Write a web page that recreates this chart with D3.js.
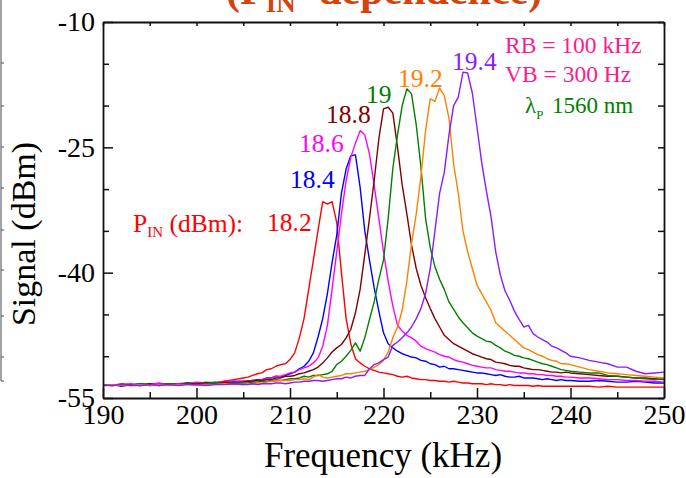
<!DOCTYPE html>
<html><head><meta charset="utf-8">
<script src="https://cdn.jsdelivr.net/npm/d3@7"></script>
<style>
html,body{margin:0;padding:0;background:#fff;}
svg{display:block;font-family:"Liberation Serif","Times New Roman",serif;}
</style></head>
<body><svg id="c" width="686" height="478"></svg>
<script>
// ---------- data ----------
// frequency grid (kHz): 190..204 step 1, 205..240 step 0.5, 241..250 step 1
const freq = [].concat(d3.range(190, 205, 1), d3.range(205, 240.01, 0.5), d3.range(241, 250.01, 1));

const pin182 = [
 -53.4,-53.5,-53.3,-53.4,-53.5,-53.3,-53.4,-53.4,-53.3,-53.2,-53.3,-53.1,-53.2,-53.0,-52.8,
 -52.6,-52.5,-52.3,-52.1,-52.0,-51.6,-51.5,-51.2,-51.0,-50.9,
 -50.4,-49.6,-47.8,-45.5,-42.0,-38.5,-34.9,-31.5,-31.8,-31.5,
 -34.0,-40.0,-45.5,-48.5,-50.3,-50.8,-51.2,-51.5,-51.7,-51.9,
 -52.0,-52.1,-52.2,-52.4,-52.5,-52.4,-52.6,-52.7,-52.8,-52.8,
 -52.9,-52.9,-53.0,-53.0,-53.1,-53.0,-53.1,-53.2,-53.2,-53.3,
 -53.3,-53.3,-53.4,-53.3,-53.4,-53.4,-53.5,-53.4,-53.5,-53.5,
 -53.5,-53.5,-53.6,-53.5,-53.6,-53.6,-53.6,-53.6,-53.6,-53.6,
 -53.6,
 -53.6,-53.6,-53.7,-53.6,-53.7,-53.7,-53.7,-53.7,-53.7,-53.7];
const pin184 = [
 -53.5,-53.4,-53.6,-53.4,-53.3,-53.5,-53.4,-53.3,-53.4,-53.2,-53.3,-53.2,-53.1,-53.2,-53.0,
 -53.0,-53.0,-52.9,-52.8,-52.8,-52.6,-52.6,-52.4,-52.5,-52.3,
 -52.1,-51.9,-51.5,-51.2,-50.6,-49.6,-47.7,-45.5,-42.5,-38.8,
 -35.5,-30.5,-27.6,-26.0,-25.9,-29.8,-35.0,-38.5,-41.8,-44.6,
 -47.2,-48.5,-49.0,-49.4,-49.7,-49.9,-50.1,-50.2,-50.5,-50.6,
 -50.9,-51.0,-51.3,-51.2,-51.5,-51.5,-51.6,-51.7,-51.8,-51.9,
 -52.0,-52.0,-52.1,-52.2,-52.3,-52.2,-52.4,-52.5,-52.5,-52.4,
 -52.6,-52.6,-52.6,-52.7,-52.8,-52.7,-52.8,-52.9,-52.8,-52.9,
 -52.9,
 -53.0,-53.0,-52.9,-53.0,-53.1,-53.1,-53.0,-53.1,-53.2,-53.2];
const pin186 = [
 -53.4,-53.5,-53.4,-53.3,-53.5,-53.4,-53.2,-53.4,-53.3,-53.3,-53.1,-53.2,-53.2,-53.0,-53.1,
 -53.0,-53.0,-52.9,-52.9,-52.8,-52.7,-52.6,-52.4,-52.4,-52.2,
 -52.0,-51.9,-51.6,-51.4,-51.2,-50.8,-50.2,-48.8,-46.3,-42.0,
 -37.5,-33.0,-29.0,-26.2,-24.5,-23.0,-23.5,-25.8,-29.5,-33.5,
 -37.5,-41.0,-44.0,-46.3,-47.0,-47.5,-47.8,-48.2,-48.8,-49.1,
 -49.3,-49.5,-49.8,-50.0,-50.1,-50.4,-50.6,-50.7,-50.9,-51.1,
 -51.2,-51.3,-51.4,-51.4,-51.6,-51.7,-51.8,-51.8,-51.9,-52.0,
 -52.0,-52.1,-52.1,-52.2,-52.2,-52.3,-52.3,-52.4,-52.4,-52.5,
 -52.5,
 -52.6,-52.6,-52.7,-52.8,-52.8,-52.9,-52.9,-53.0,-53.0,-53.1];
const pin188 = [
 -53.5,-53.4,-53.5,-53.4,-53.4,-53.3,-53.5,-53.3,-53.4,-53.3,-53.3,-53.2,-53.3,-53.1,-53.2,
 -53.1,-53.0,-53.0,-52.9,-52.9,-52.8,-52.8,-52.6,-52.6,-52.4,
 -52.4,-52.3,-52.1,-52.0,-51.8,-51.6,-51.3,-50.8,-50.2,-49.5,
 -49.0,-48.6,-47.8,-46.8,-44.8,-42.0,-37.8,-33.5,-29.0,-24.0,
 -20.4,-20.2,-20.9,-25.0,-29.5,-33.0,-36.7,-39.5,-41.5,-43.0,
 -44.3,-45.5,-46.5,-47.5,-48.0,-48.5,-48.8,-49.1,-49.4,-49.7,
 -49.9,-50.1,-50.3,-50.4,-50.7,-50.8,-50.9,-51.1,-51.2,-51.2,
 -51.4,-51.5,-51.6,-51.6,-51.7,-51.8,-51.9,-51.9,-52.0,-51.9,
 -52.0,
 -52.1,-52.2,-52.3,-52.4,-52.4,-52.5,-52.6,-52.6,-52.7,-52.8];
const pin190 = [
 -53.4,-53.5,-53.4,-53.5,-53.3,-53.4,-53.4,-53.3,-53.4,-53.3,-53.4,-53.3,-53.2,-53.3,-53.2,
 -53.2,-53.2,-53.1,-53.1,-53.0,-53.0,-52.9,-52.8,-52.9,-52.8,
 -52.7,-52.7,-52.6,-52.4,-52.5,-52.3,-52.3,-52.2,-52.1,-51.8,
 -51.0,-50.6,-50.0,-49.3,-48.4,-49.4,-47.8,-45.6,-43.5,-40.8,
 -38.5,-33.5,-27.5,-23.5,-20.0,-18.0,-18.6,-22.3,-27.3,-33.5,
 -37.0,-39.3,-40.8,-42.0,-43.5,-44.4,-45.3,-46.0,-46.6,-47.2,
 -47.6,-47.9,-48.2,-48.3,-48.7,-49.0,-49.4,-49.6,-49.9,-50.0,
 -50.2,-50.3,-50.5,-50.7,-50.9,-51.0,-51.2,-51.4,-51.6,-51.7,
 -51.8,
 -51.9,-52.0,-52.0,-52.3,-52.4,-52.5,-52.6,-52.7,-52.8,-52.7];
const pin192 = [
 -53.5,-53.4,-53.5,-53.5,-53.4,-53.5,-53.4,-53.5,-53.4,-53.4,-53.5,-53.4,-53.4,-53.3,-53.4,
 -53.4,-53.3,-53.3,-53.2,-53.2,-53.1,-53.0,-53.0,-52.9,-52.9,
 -52.9,-52.8,-52.8,-52.7,-52.8,-52.5,-52.2,-52.5,-52.6,-52.5,
 -52.4,-52.3,-52.1,-52.1,-52.0,-51.9,-51.8,-51.6,-51.3,-51.0,
 -50.5,-49.5,-47.8,-46.5,-44.5,-41.0,-36.5,-33.0,-28.5,-23.0,
 -19.2,-19.5,-17.9,-18.8,-21.5,-27.0,-30.5,-35.0,-37.5,-39.5,
 -41.5,-42.5,-43.5,-44.5,-46.0,-46.5,-47.0,-47.5,-48.0,-48.5,
 -49.0,-49.2,-49.5,-49.8,-50.0,-50.3,-50.5,-50.6,-50.9,-50.9,
 -51.0,
 -51.3,-51.6,-51.8,-52.0,-52.1,-52.2,-52.3,-52.4,-52.5,-52.6];
const pin194 = [
 -53.5,-53.5,-53.4,-53.5,-53.5,-53.4,-53.5,-53.4,-53.5,-53.4,-53.4,-53.5,-53.4,-53.4,-53.3,
 -53.4,-53.4,-53.3,-53.4,-53.3,-53.3,-53.3,-53.2,-53.2,-53.3,
 -53.2,-53.1,-53.1,-53.0,-53.0,-52.9,-52.9,-53.0,-52.9,-52.8,
 -52.7,-52.7,-52.5,-52.6,-52.4,-52.3,-52.3,-51.5,-51.0,-50.8,
 -50.4,-50.1,-48.7,-48.3,-47.8,-47.2,-46.5,-45.5,-44.3,-42.5,
 -39.5,-35.0,-30.5,-28.0,-23.5,-20.0,-19.0,-16.0,-16.1,-18.5,
 -22.6,-26.8,-30.2,-33.3,-37.5,-40.3,-42.2,-43.3,-44.6,-45.6,
 -46.5,-46.3,-47.3,-47.7,-48.0,-48.3,-48.8,-49.0,-49.3,-49.6,
 -50.0,
 -50.2,-50.5,-50.7,-50.9,-51.3,-51.3,-51.8,-52.1,-52.0,-51.9];

const seriesNames = ["18.2", "18.4", "18.6", "18.8", "19", "19.2", "19.4"];
const seriesValues = [pin182, pin184, pin186, pin188, pin190, pin192, pin194];
const seriesColors = ["#ff0000", "#0000ff", "#ff00ff", "#800000", "#008000", "#ff8000", "#8a1cff"];

const xMajorTicks = [190, 200, 210, 220, 230, 240, 250];
const xMinorTicks = [195, 205, 215, 225, 235, 245];
const yMajorTicks = [-55, -40, -25, -10];
const yMinorTicks = [-50, -45, -35, -30, -20, -15];

// ---------- drawing ----------
const svg = d3.select("#c");
const x = d3.scaleLinear().domain([190, 250]).range([103, 664]);
const y = d3.scaleLinear().domain([-55, -10]).range([398, 22]);

// cut-off title
const title = svg.append("text").attr("x", 226).attr("y", 4)
  .attr("fill", "#d4420f").attr("font-size", 42).attr("font-weight", "bold");
title.append("tspan").text("(P");
title.append("tspan").attr("font-size", 27).attr("dy", 8).text("IN");
title.append("tspan").attr("dy", -8).attr("dx", 12).text(" dependence)");

// neighbouring panel edge at far left
const edge = svg.append("g").attr("stroke", "#666").attr("stroke-width", 1.2);
edge.append("line").attr("x1", 1).attr("x2", 1).attr("y1", 0).attr("y2", 381);
[63, 106, 147, 188, 230, 270, 316, 357, 381].forEach(v =>
  edge.append("line").attr("x1", 1).attr("x2", 4).attr("y1", v).attr("y2", v));

// curves
const line = d3.line().x((d, i) => x(freq[i])).y(d => y(d));
seriesValues.forEach((vals, k) => {
  svg.append("path").datum(vals).attr("d", line)
    .attr("fill", "none").attr("stroke", seriesColors[k])
    .attr("stroke-width", 1.4).attr("stroke-linejoin", "round");
});

// axes
function styleAxis(g) {
  g.attr("color", "#111");
  g.selectAll("path.domain").attr("stroke-width", 1.8);
  g.selectAll(".tick line").attr("stroke-width", 1.5);
  g.selectAll("text").attr("font-family", "Liberation Serif, Times New Roman, serif").attr("font-size", 28).attr("fill", "#000");
}
svg.append("g").attr("transform", "translate(0,398)")
  .call(d3.axisBottom(x).tickValues(xMajorTicks).tickSize(-10).tickSizeOuter(0).tickPadding(6).tickFormat(d => String(d)))
  .call(styleAxis);
svg.append("g").attr("transform", "translate(0,398)")
  .call(d3.axisBottom(x).tickValues(xMinorTicks).tickSize(-6).tickSizeOuter(0).tickFormat(""))
  .call(styleAxis).call(g => g.select(".domain").remove());
svg.append("g").attr("transform", "translate(0,22)")
  .call(d3.axisTop(x).tickValues(xMajorTicks.concat(xMinorTicks)).tickSize(-4).tickSizeOuter(0).tickFormat(""))
  .call(styleAxis);
svg.append("g").attr("transform", "translate(103,0)")
  .call(d3.axisLeft(y).tickValues(yMajorTicks).tickSize(-10).tickSizeOuter(0).tickPadding(8).tickFormat(d => String(d)))
  .call(styleAxis);
svg.append("g").attr("transform", "translate(103,0)")
  .call(d3.axisLeft(y).tickValues(yMinorTicks).tickSize(-6).tickSizeOuter(0).tickFormat(""))
  .call(styleAxis).call(g => g.select(".domain").remove());
svg.append("g").attr("transform", "translate(664,0)")
  .call(d3.axisRight(y).tickValues(yMajorTicks.concat(yMinorTicks)).tickSize(-6).tickSizeOuter(0).tickFormat(""))
  .call(styleAxis);

// axis titles
svg.append("text").attr("x", 383).attr("y", 467).attr("text-anchor", "middle")
  .attr("font-size", 35).attr("fill", "#000").text("Frequency (kHz)");
svg.append("text").attr("transform", "translate(35,234) rotate(-90)").attr("text-anchor", "middle")
  .attr("font-size", 34).attr("fill", "#000").text("Signal (dBm)");

// series labels
const labelPos = [[267, 231], [290, 188], [299, 152], [326, 123], [366, 103], [398, 87], [452, 70]];
seriesNames.forEach((n, k) => {
  svg.append("text").attr("x", labelPos[k][0]).attr("y", labelPos[k][1])
    .attr("font-size", 25.5).attr("fill", seriesColors[k]).text(n);
});
const pinLab = svg.append("text").attr("x", 133).attr("y", 232).attr("font-size", 25.5).attr("fill", "#ff0000");
pinLab.append("tspan").text("P");
pinLab.append("tspan").attr("font-size", 15).attr("dy", 5).text("IN");
pinLab.append("tspan").attr("dy", -5).text(" (dBm):");

// settings text
svg.append("text").attr("x", 505).attr("y", 53).attr("font-size", 23.5).attr("fill", "#ff1a8c").text("RB = 100 kHz");
svg.append("text").attr("x", 505).attr("y", 82).attr("font-size", 23.5).attr("fill", "#ff1a8c").text("VB = 300 Hz");
const lam = svg.append("text").attr("x", 525).attr("y", 113).attr("font-size", 23).attr("fill", "#008000");
lam.append("tspan").text("λ");
lam.append("tspan").attr("font-size", 13).attr("dy", 6).text("P");
lam.append("tspan").attr("dy", -6).attr("x", 552).text("1560 nm");
</script>
</body></html>
